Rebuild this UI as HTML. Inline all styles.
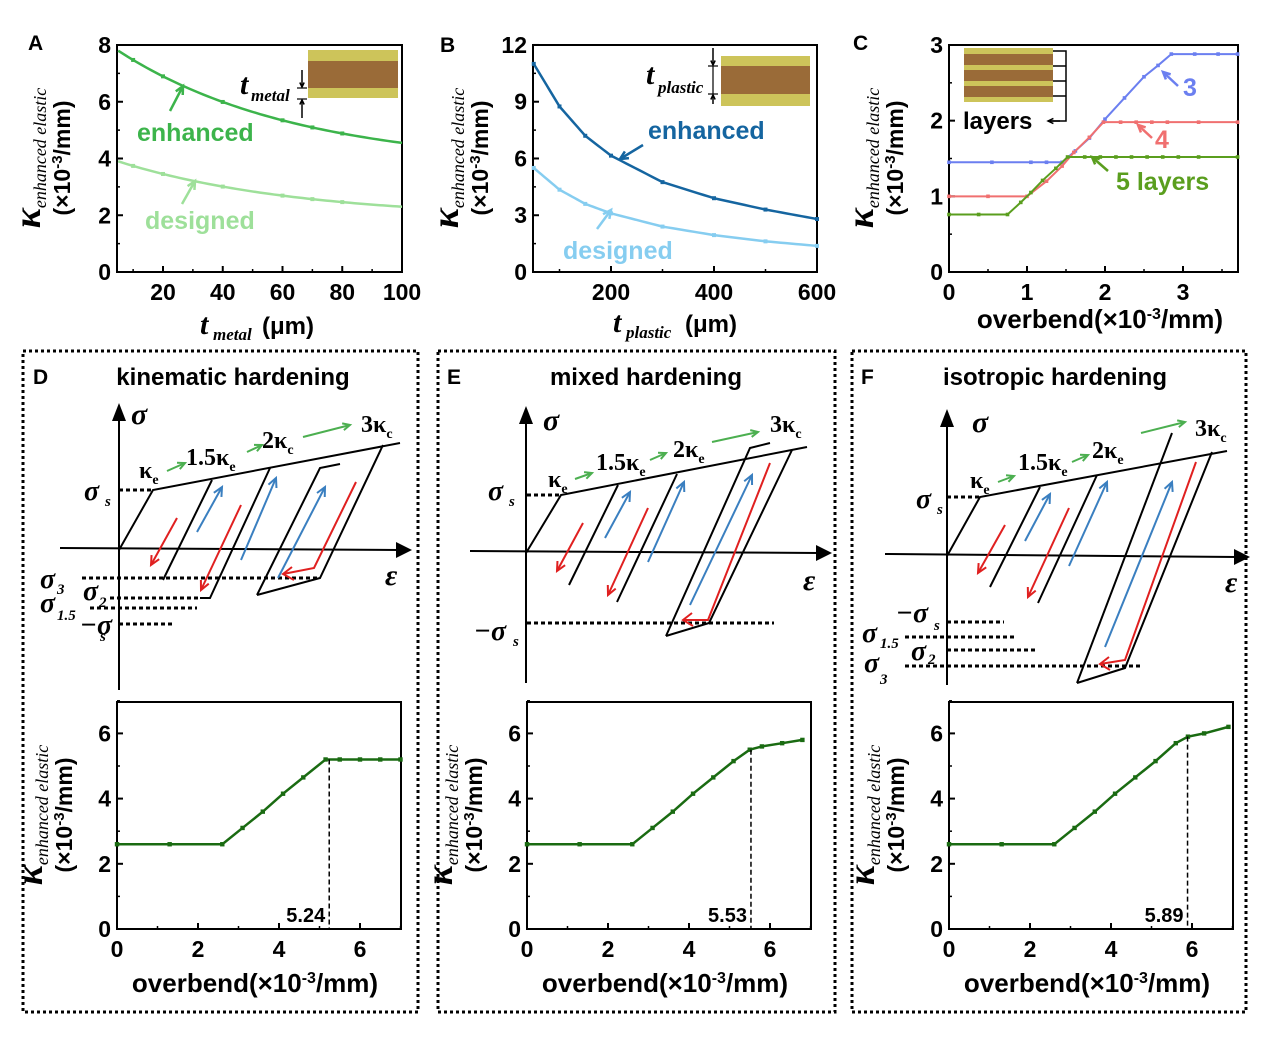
<!DOCTYPE html>
<html><head><meta charset="utf-8"><style>
html,body{margin:0;padding:0;background:#fff}
svg{display:block}
text{font-family:"Liberation Sans",Arial,sans-serif;font-weight:bold}
.ser{font-family:"Liberation Serif",serif}
</style></head><body>
<svg id="s" width="1269" height="1040" viewBox="0 0 1269 1040" xmlns="http://www.w3.org/2000/svg">
<text x="28" y="50" font-size="21">A</text>
<text x="440" y="52" font-size="21">B</text>
<text x="853" y="50" font-size="21">C</text>
<rect x="23" y="351" width="395" height="661" fill="none" stroke="#000" stroke-width="3" stroke-dasharray="3,3"/>
<rect x="438" y="351" width="397" height="661" fill="none" stroke="#000" stroke-width="3" stroke-dasharray="3,3"/>
<rect x="852" y="351" width="394" height="661" fill="none" stroke="#000" stroke-width="3" stroke-dasharray="3,3"/>
<text x="33" y="384" font-size="21">D</text>
<text x="447" y="384" font-size="21">E</text>
<text x="861" y="384" font-size="21">F</text>
<text x="233" y="385" font-size="24" text-anchor="middle">kinematic hardening</text>
<text x="646" y="385" font-size="24" text-anchor="middle">mixed hardening</text>
<text x="1055" y="385" font-size="24" text-anchor="middle">isotropic hardening</text>
<g id="g"></g>
</svg>
<script>
(function(){
const g=document.getElementById('g');
const NS='http://www.w3.org/2000/svg';
function el(t,a,txt){const e=document.createElementNS(NS,t);for(const k in a)e.setAttribute(k,a[k]);if(txt!==undefined)e.textContent=txt;g.appendChild(e);return e;}
function line(x1,y1,x2,y2,c,w,extra){return el('line',Object.assign({x1:x1,y1:y1,x2:x2,y2:y2,stroke:c||'#000','stroke-width':w||2},extra||{}));}
function pl(pts,c,w,extra){return el('polyline',Object.assign({points:pts.map(p=>p.join(',')).join(' '),fill:'none',stroke:c||'#000','stroke-width':w||2},extra||{}));}
function arrow(x1,y1,x2,y2,c,w,hs){
  pl([[x1,y1],[x2,y2]],c,w||2);
  const a=Math.atan2(y2-y1,x2-x1),h=hs||10;
  pl([[x2-h*Math.cos(a-0.45),y2-h*Math.sin(a-0.45)],[x2,y2],[x2-h*Math.cos(a+0.45),y2-h*Math.sin(a+0.45)]],c,w||2);
}
function axes(o){
  const x0=o.x0,x1=o.x1,y0=o.y0,y1=o.y1;
  el('rect',{x:x0,y:y0,width:x1-x0,height:y1-y0,fill:'none',stroke:'#000','stroke-width':2});
  o.yt.forEach(function(t){const y=o.Y(t[0]);line(x0,y,x0+6,y,'#000',2);el('text',{x:x0-6,y:y+8,'font-size':23,'text-anchor':'end'},t[1]);});
  (o.ymt||[]).forEach(function(v){const y=o.Y(v);line(x0,y,x0+3,y,'#000',1.5);});
  o.xt.forEach(function(t){const x=o.X(t[0]);line(x,y1,x,y1-6,'#000',2);el('text',{x:x,y:y1+28,'font-size':23,'text-anchor':'middle'},t[1]);});
  (o.xmt||[]).forEach(function(v){const x=o.X(v);line(x,y1,x,y1-3,'#000',1.5);});
}
function ts(parent,attrs,txt){const a=document.createElementNS(NS,'tspan');for(const k in attrs)a.setAttribute(k,attrs[k]);a.textContent=txt;parent.appendChild(a);return a;}
function ylab(cx,cy){
  const t=el('text',{transform:'translate('+cx+','+cy+') rotate(-90)','text-anchor':'middle','font-size':24});
  ts(t,{'class':'ser','font-style':'italic','font-size':'38'},'κ');
  ts(t,{'class':'ser','font-style':'italic','font-weight':'normal','font-size':'18',dy:'6'},'enhanced elastic');
  const t2=el('text',{transform:'translate('+(cx+30)+','+cy+') rotate(-90)','text-anchor':'middle','font-size':23});
  ts(t2,{},'(×10');ts(t2,{'font-size':'15',dy:'-8'},'-3');ts(t2,{dy:'8'},'/mm)');
}
function xlabOver(cx,y){
  const t=el('text',{x:cx,y:y,'font-size':26,'text-anchor':'middle'});
  ts(t,{},'overbend(×10');ts(t,{'font-size':'16',dy:'-9'},'-3');ts(t,{dy:'9'},'/mm)');
}
function series(o,xs,ys,c,w,ms){
  ms=ms||2;
  const pts=xs.map(function(x,i){return [o.X(x),o.Y(ys[i])];});
  pl(pts,c,w||2);
  pts.forEach(function(p){el('rect',{x:p[0]-ms,y:p[1]-ms,width:2*ms,height:2*ms,fill:c});});
}
function smooth(o,f,a,b,c,w){const pts=[];for(let i=0;i<=60;i++){const x=a+(b-a)*i/60;pts.push([o.X(x),o.Y(f(x))]);}pl(pts,c,w||2.5);}
function it(x,y,s,sz){return el('text',{x:x,y:y,'font-size':sz,'font-style':'italic','class':'ser'},s);}

// ---------- A
(function(){const o={x0:117,x1:402,y0:45,y1:272,X:t=>163+(t-20)*2.9875,Y:v=>272-v*28.375,
 yt:[[0,'0'],[2,'2'],[4,'4'],[6,'6'],[8,'8']],ymt:[1,3,5,7],xt:[[20,'20'],[40,'40'],[60,'60'],[80,'80'],[100,'100']],xmt:[10,30,50,70,90]};
axes(o);
const E=Math.exp(-95/60);
const fe=t=>4.55+3.25*(Math.exp(-(t-5)/60)-E)/(1-E);
const fd=t=>2.3+1.6*(Math.exp(-(t-5)/60)-E)/(1-E);
smooth(o,fe,5,100,'#3cb44b');smooth(o,fd,5,100,'#9ee09a');
[10,20,40,60,70,80].forEach(function(t){el('rect',{x:o.X(t)-2,y:o.Y(fe(t))-2,width:4,height:4,fill:'#3cb44b'});el('rect',{x:o.X(t)-2,y:o.Y(fd(t))-2,width:4,height:4,fill:'#9ee09a'});});
arrow(170,111,183,86,'#3cb44b',2.5,9);arrow(182,204,195,181,'#9ee09a',2.5,9);
el('text',{x:137,y:141,'font-size':25,fill:'#3cb44b'},'enhanced');
el('text',{x:145,y:229,'font-size':25,fill:'#9ee09a'},'designed');
el('rect',{x:308,y:50,width:90,height:48,fill:'#cdc45a'});el('rect',{x:308,y:61,width:90,height:27,fill:'#9a6b38'});
arrow(302,70,302,87,'#000',1.5,5);arrow(302,118,302,100,'#000',1.5,5);line(297,88,307,88,'#000',1.2);line(297,99,307,99,'#000',1.2);
it(240,94,'t',30);it(251,101,'metal',17);
ylab(40,158);
it(200,334,'t',30);it(213,340,'metal',17);el('text',{x:262,y:334,'font-size':24},'(μm)');
})();
// ---------- B
(function(){const o={x0:533,x1:817,y0:45,y1:272,X:t=>611+(t-200)*0.515,Y:v=>272-v*18.92,
 yt:[[0,'0'],[3,'3'],[6,'6'],[9,'9'],[12,'12']],ymt:[1.5,4.5,7.5,10.5],xt:[[200,'200'],[400,'400'],[600,'600']],xmt:[100,300,500]};
axes(o);
const xs=[50,100,150,200,300,400,500,600];
const ye=[11,8.75,7.2,6.15,4.75,3.9,3.3,2.8],yd=[5.5,4.35,3.6,3.1,2.4,1.95,1.62,1.38];
function sp(ys,c){const pts=[];for(let i=0;i<xs.length-1;i++){for(let k=0;k<10;k++){const f=k/10;pts.push([o.X(xs[i]+(xs[i+1]-xs[i])*f),o.Y(ys[i]+(ys[i+1]-ys[i])*f)]);}}pts.push([o.X(600),o.Y(ys[7])]);pl(pts,c,2.5);xs.forEach(function(x,i){el('rect',{x:o.X(x)-2,y:o.Y(ys[i])-2,width:4,height:4,fill:c});});}
sp(ye,'#1565a0');sp(yd,'#86cdf0');
arrow(643,145,620,159,'#1565a0',2.5,9);arrow(597,229,611,210,'#86cdf0',2.5,9);
el('text',{x:648,y:139,'font-size':25,fill:'#1565a0'},'enhanced');
el('text',{x:563,y:259,'font-size':25,fill:'#86cdf0'},'designed');
el('rect',{x:721,y:56,width:89,height:50,fill:'#cdc45a'});el('rect',{x:721,y:66,width:89,height:28,fill:'#9a6b38'});
arrow(713,48,713,65,'#000',1.5,5);arrow(713,104,713,95,'#000',1.5,5);line(713,66,713,94,'#000',1.2);line(708,66,718,66,'#000',1.2);line(708,94,718,94,'#000',1.2);
it(646,84,'t',30);it(658,93,'plastic',17);
ylab(458,158);
it(613,332,'t',30);it(626,338,'plastic',17);el('text',{x:685,y:332,'font-size':24},'(μm)');
})();
// ---------- C
(function(){const o={x0:949,x1:1238,y0:45,y1:272,X:v=>949+v*78,Y:v=>272-v*75.67,
 yt:[[0,'0'],[1,'1'],[2,'2'],[3,'3']],ymt:[0.5,1.5,2.5],xt:[[0,'0'],[1,'1'],[2,'2'],[3,'3']],xmt:[0.5,1.5,2.5,3.5]};
axes(o);
series(o,[0,0.55,1.05,1.25,1.45,1.62,1.8,2.0,2.25,2.5,2.68,2.85,3.15,3.45,3.7],[1.45,1.45,1.45,1.45,1.45,1.6,1.77,2.02,2.3,2.58,2.73,2.88,2.88,2.88,2.88],'#6b7ff0',2,1.8);
series(o,[0,0.5,1.0,1.25,1.45,1.6,1.8,1.98,2.2,2.4,2.6,2.8,3.2,3.7],[1.0,1.0,1.0,1.2,1.4,1.58,1.78,1.98,1.98,1.98,1.98,1.98,1.98,1.98],'#f07070',2,1.8);
series(o,[0,0.38,0.75,0.92,1.05,1.2,1.37,1.52,1.74,1.94,2.14,2.34,2.54,2.74,2.94,3.2,3.7],[0.76,0.76,0.76,0.92,1.05,1.21,1.37,1.52,1.52,1.52,1.52,1.52,1.52,1.52,1.52,1.52,1.52],'#5a9e1e',2,1.8);
arrow(1178,86,1163,72,'#6b7ff0',2.5,8);el('text',{x:1183,y:96,'font-size':25,fill:'#6b7ff0'},'3');
arrow(1152,138,1138,125,'#f07070',2.5,8);el('text',{x:1155,y:148,'font-size':25,fill:'#f07070'},'4');
arrow(1108,171,1092,157,'#5a9e1e',2.5,8);el('text',{x:1116,y:190,'font-size':25,fill:'#5a9e1e'},'5 layers');
const cols=['#cdc45a','#9a6b38','#cdc45a','#9a6b38','#cdc45a','#9a6b38','#cdc45a'];
const hs=[6,11,5,11,5,11,5];let yy=48;cols.forEach(function(c,i){el('rect',{x:964,y:yy,width:89,height:hs[i],fill:c});yy+=hs[i];});
pl([[1053,51],[1066,51],[1066,121],[1048,121]],'#000',1.5);
[66,81,96].forEach(function(y){line(1053,y,1066,y,'#000',1.5);});
arrow(1060,121,1048,121,'#000',1.5,6);
el('text',{x:963,y:129,'font-size':24},'layers');
ylab(873,158);
xlabOver(1100,328);
})();
// ---------- bottom plots
function bottomPlot(x0,xs,ys,vy,vx,lab){
  const o={x0:x0,x1:x0+284,y0:702,y1:929,X:v=>x0+v*40.5,Y:v=>929-v*32.6,
   yt:[[0,'0'],[2,'2'],[4,'4'],[6,'6']],ymt:[1,3,5,7],xt:[[0,'0'],[2,'2'],[4,'4'],[6,'6']],xmt:[1,3,5,7]};
  axes(o);
  series(o,xs,ys,'#1a6b12',2.5,2.2);
  line(o.X(vx),o.Y(vy),o.X(vx),929,'#000',1.5,{'stroke-dasharray':'5,3'});
  el('text',{x:o.X(vx)-4,y:922,'font-size':20,'text-anchor':'end'},lab);
  ylab(x0-75,815);
  xlabOver(x0+138,992);
}
bottomPlot(117,[0,1.3,2.6,3.1,3.6,4.1,4.6,5.15,5.5,6,6.5,7],[2.6,2.6,2.6,3.1,3.6,4.15,4.65,5.2,5.2,5.2,5.2,5.2],5.2,5.24,'5.24');
bottomPlot(527,[0,1.3,2.6,3.1,3.6,4.1,4.6,5.1,5.5,5.8,6.3,6.8],[2.6,2.6,2.6,3.1,3.6,4.15,4.65,5.15,5.5,5.6,5.7,5.8],5.5,5.53,'5.53');
bottomPlot(949,[0,1.3,2.6,3.1,3.6,4.1,4.6,5.1,5.6,5.9,6.3,6.9],[2.6,2.6,2.6,3.1,3.6,4.15,4.65,5.15,5.7,5.9,6.0,6.2],5.9,5.89,'5.89');

// ---------- schematics
function sr(x,y,s,sz){return el('text',{x:x,y:y,'font-size':sz||26,'class':'ser','font-style':'italic','font-weight':'normal'},s);}
function dots(x1,x2,y){line(x1,y,x2,y,'#000',3,{'stroke-dasharray':'4,3'});}
function kap(x,y,pre,sub){const t=el('text',{x:x,y:y,'font-size':24,'class':'ser'});ts(t,{},pre+'κ');ts(t,{'font-size':'14',dy:'6'},sub);}
function vaxis(ox,axTop,axBot){
  line(ox,axBot,ox,axTop+10,'#000',2);el('path',{d:'M'+(ox-7)+','+(axTop+14)+'L'+ox+','+(axTop-4)+'L'+(ox+7)+','+(axTop+14)+'z',fill:'#000'});
}
const G='#4caf50',R='#e02020',B='#3a7fc0';
// D
vaxis(119,407,690);
line(60,548,400,550,'#000',2);el('path',{d:'M396,542L412,550L396,558z',fill:'#000'});
sr(131,424,'σ',30);sr(385,585,'ε',30);
dots(119,153,490);pl([[119,550],[153,490],[400,443]]);
line(212,480,163,580);pl([[200,598],[210,598],[270,468]]);pl([[257,595],[320,468],[340,464]]);pl([[257,595],[320,578],[383,445]]);
dots(82,320,578);dots(110,200,598);dots(90,197,608);dots(119,175,624);
sr(40,588,'σ',28);sr(57,594,'3',15);sr(40,612,'σ',28);sr(57,620,'1.5',15);sr(83,600,'σ',28);sr(99,607,'2',15);sr(80,634,'−σ',28);sr(100,641,'s',15);
sr(84,500,'σ',28);sr(105,506,'s',15);
arrow(177,518,151,565,R);arrow(197,532,222,487,B);arrow(241,505,201,590,R);arrow(241,560,276,478,B);arrow(278,578,325,487,B);
pl([[356,482],[314,568],[283,574]],R,2);pl([[292,567],[283,574],[294,580]],R,2);
kap(139,478,'','e');kap(186,465,'1.5','e');kap(262,448,'2','c');kap(361,432,'3','c');
arrow(167,471,185,463,G,2,8);arrow(247,452,262,445,G,2,8);arrow(303,437,350,425,G,2,8);
// E
vaxis(526,410,683);
line(470,551,820,553,'#000',2);el('path',{d:'M816,545L832,553L816,561z',fill:'#000'});
sr(543,430,'σ',30);sr(803,590,'ε',30);
dots(527,561,495);pl([[526,553],[561,495],[807,447]]);
line(569,585,618,485);line(617,602,677,474);pl([[666,636],[750,448],[770,443]]);pl([[666,636],[709,623],[792,450]]);
dots(527,774,623);
sr(488,500,'σ',28);sr(509,506,'s',15);sr(474,640,'−σ',28);sr(513,646,'s',15);
arrow(583,523,557,571,R);arrow(605,538,630,492,B);arrow(648,508,608,595,R);arrow(648,562,684,482,B);arrow(690,605,752,475,B);
pl([[770,463],[708,620],[683,620]],R,2);pl([[692,613],[683,620],[693,626]],R,2);
kap(548,487,'','e');kap(596,470,'1.5','e');kap(673,457,'2','e');kap(770,432,'3','c');
arrow(575,479,592,473,G,2,8);arrow(650,460,666,453,G,2,8);arrow(712,442,758,432,G,2,8);
// F
vaxis(947,413,685);
line(885,554,1238,557,'#000',2);el('path',{d:'M1234,549L1250,557L1234,565z',fill:'#000'});
sr(972,432,'σ',30);sr(1225,592,'ε',30);
dots(947,980,497);pl([[947,556],[980,497],[1227,451]]);
line(990,587,1040,487);line(1038,603,1097,475);line(1077,683,1172,433);pl([[1077,683],[1125,668],[1212,452]]);
dots(947,1004,622);dots(905,1016,637);dots(947,1036,650);dots(905,1143,666);
sr(916,508,'σ',28);sr(937,514,'s',15);sr(896,622,'−σ',28);sr(934,630,'s',15);
sr(862,642,'σ',28);sr(880,648,'1.5',15);sr(911,660,'σ',28);sr(928,664,'2',15);sr(864,672,'σ',28);sr(880,684,'3',15);
arrow(1005,525,978,573,R);arrow(1025,541,1050,494,B);arrow(1069,508,1028,597,R);arrow(1069,566,1107,482,B);arrow(1105,647,1172,482,B);
pl([[1196,462],[1125,660],[1100,664]],R,2);pl([[1109,657],[1100,664],[1110,670]],R,2);
kap(970,488,'','e');kap(1018,470,'1.5','e');kap(1092,458,'2','e');kap(1195,436,'3','c');
arrow(998,482,1014,476,G,2,8);arrow(1072,462,1088,455,G,2,8);arrow(1141,433,1185,422,G,2,8);
})();
</script>
</body></html>
